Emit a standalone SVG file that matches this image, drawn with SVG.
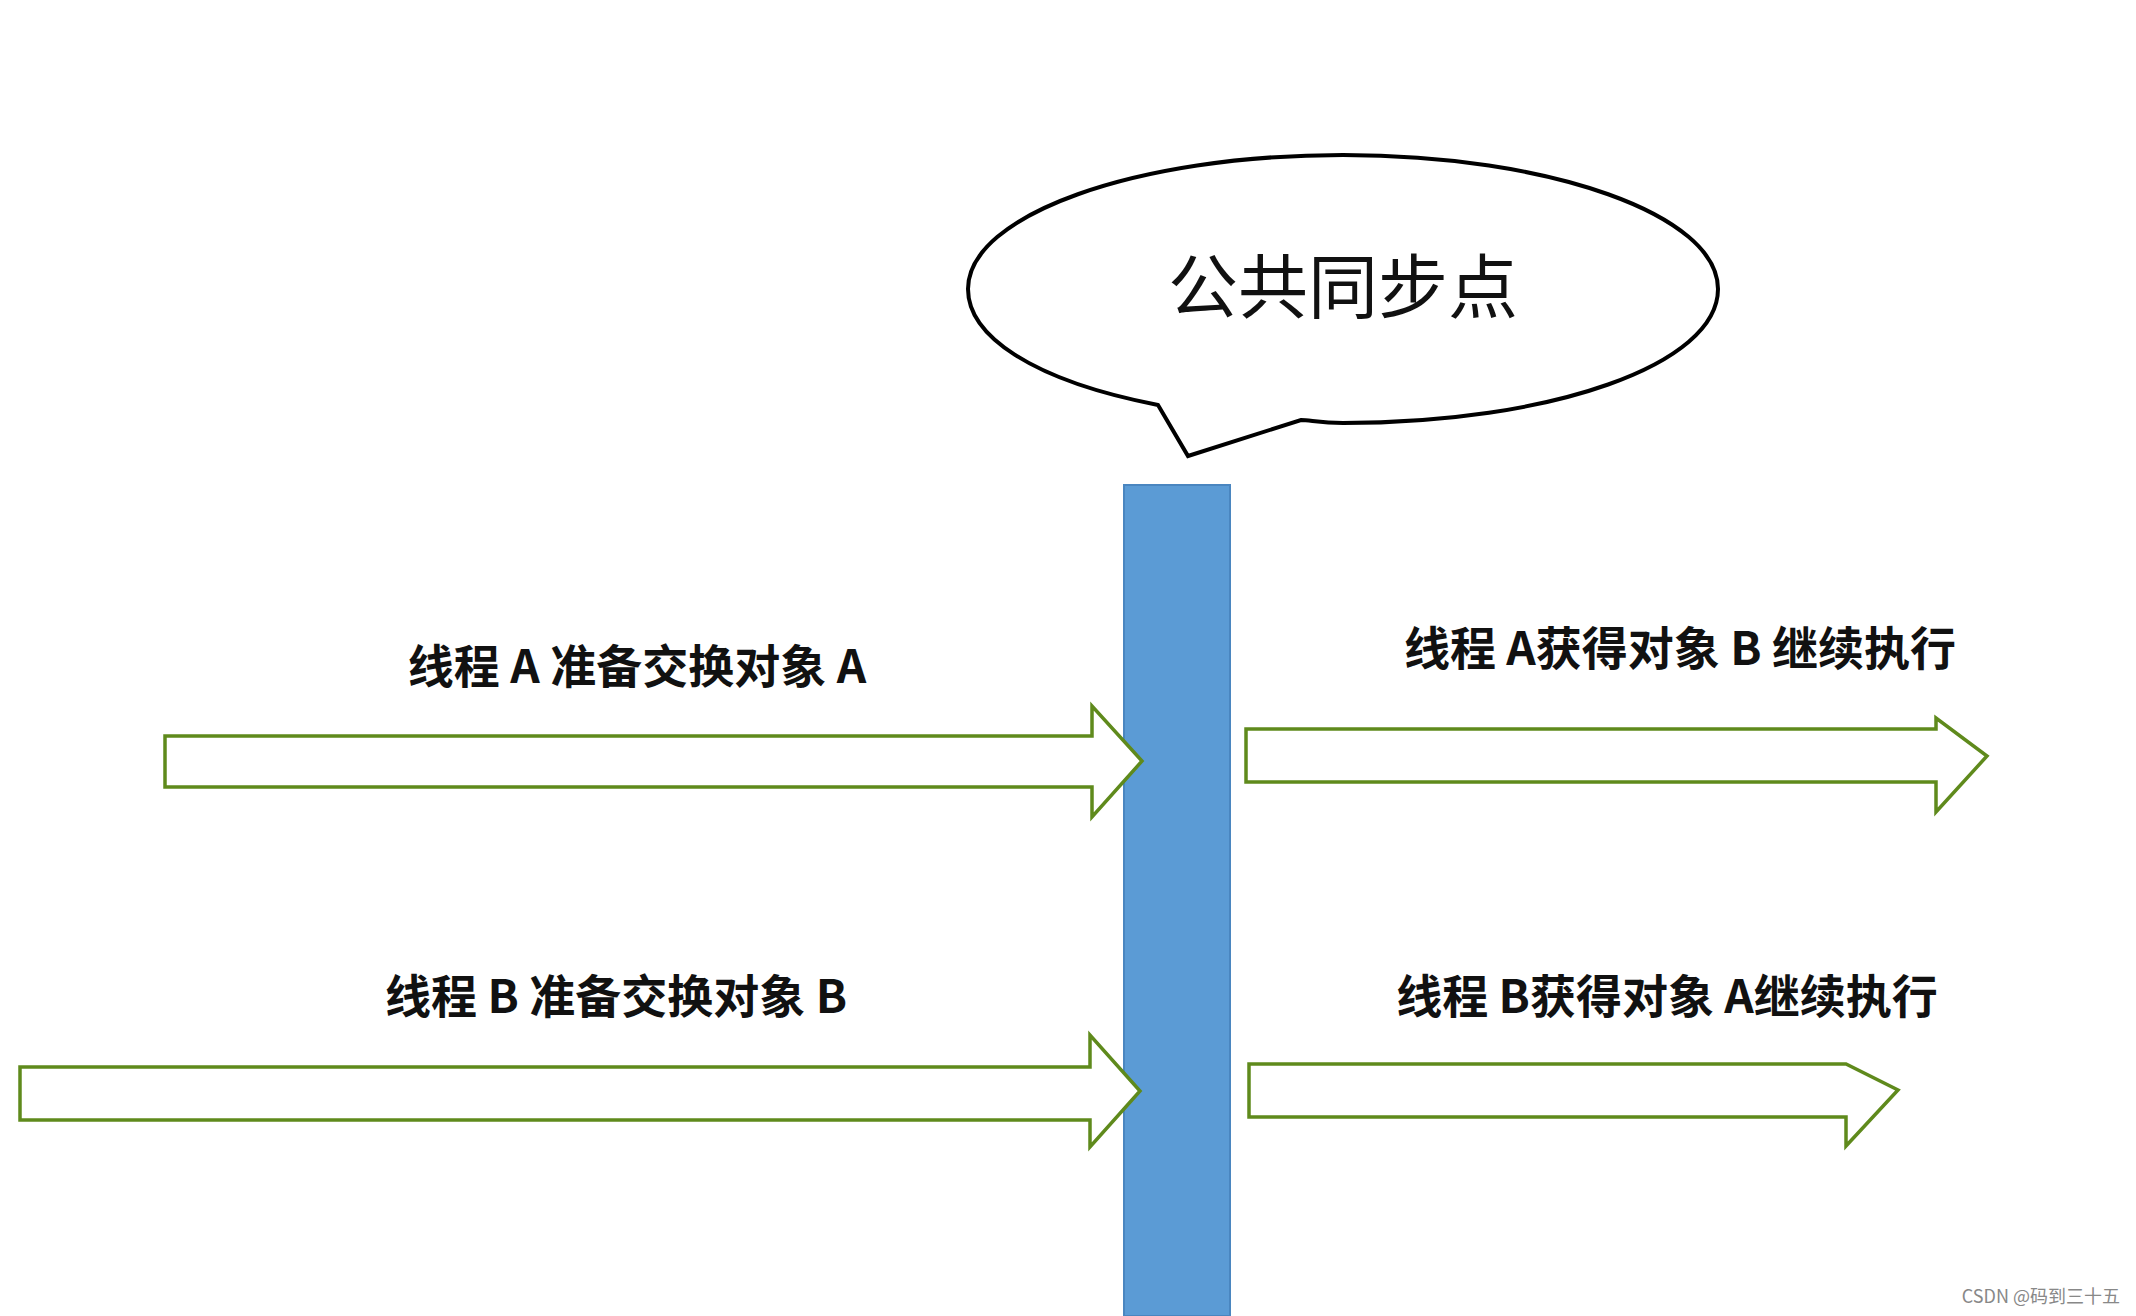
<svg xmlns="http://www.w3.org/2000/svg" width="2136" height="1316" viewBox="0 0 2136 1316">
<style>
.arr{fill:#fff;stroke:#5f8a1c;stroke-width:3.5;stroke-linejoin:miter}
.lbl{font-family:"Noto Sans CJK SC","Liberation Sans",sans-serif;font-size:46px;fill:#111;text-anchor:middle;font-weight:bold}
</style>
<rect width="2136" height="1316" fill="#fff"/>
<g id="bubble">
<path d="M1158,405 C1030,380 968,335 968,289 C968,215 1136,155 1343,155 C1550,155 1718,215 1718,289 C1718,365 1550,423 1343,423 C1320,423 1310,420 1301,420 L1188,456 Z" fill="#fff" stroke="#000" stroke-width="4"/>
<text x="1343" y="313" font-family="Noto Sans CJK SC,sans-serif" font-size="70" text-anchor="middle" fill="#111">公共同步点</text>
</g>
<g id="bar"><rect x="1124" y="485" width="106" height="831" fill="#5b9bd5" stroke="#4a86c0" stroke-width="2"/></g>
<g id="connectors">
<path class="arr" d="M165,736 H1092 V706 L1142,761 L1092,817 V787 H165 Z"/>
<path class="arr" d="M1246,729 H1936 V718 L1987,756 L1936,812 V782 H1246 Z"/>
<path class="arr" d="M20,1067 H1090 V1035 L1140,1091 L1090,1147 V1120 H20 Z"/>
<path class="arr" d="M1249,1064 H1846 L1898,1090 L1846,1146 V1117 H1249 Z"/>
</g>
<g id="labels">
<text class="lbl" x="637" y="683">线程 A 准备交换对象 A</text>
<text class="lbl" x="1680" y="665">线程 A获得对象 B 继续执行</text>
<text class="lbl" x="616" y="1013">线程 B 准备交换对象 B</text>
<text class="lbl" x="1667" y="1013">线程 B获得对象 A继续执行</text>
</g>
<text x="2120" y="1303" font-family="Noto Sans CJK SC,sans-serif" font-size="18" text-anchor="end" fill="#888">CSDN @码到三十五</text>
</svg>
